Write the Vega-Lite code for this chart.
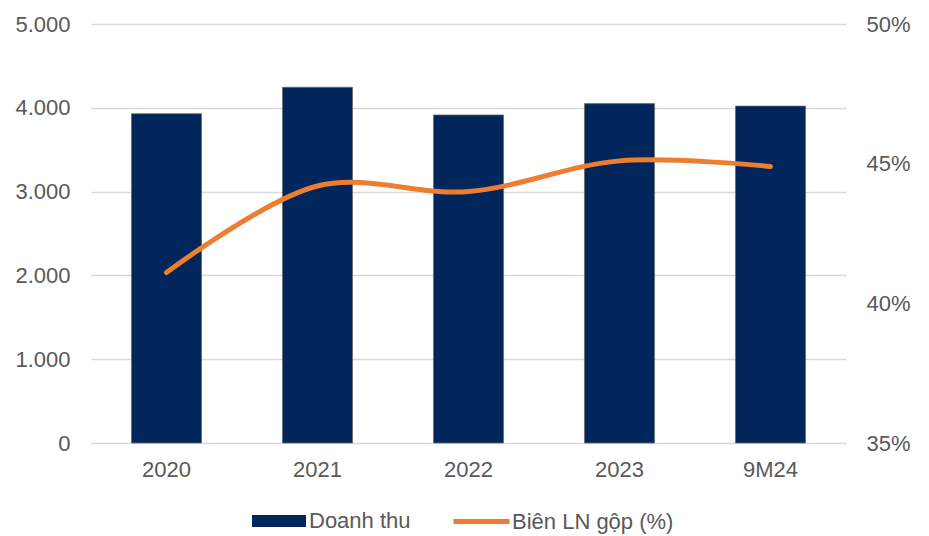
{
  "$schema": "https://vega.github.io/schema/vega-lite/v6.json",
  "width": 755,
  "height": 419,
  "autosize": {"type": "none"},
  "padding": {"left": 91, "top": 24, "right": 83, "bottom": 93},
  "background": "white",
  "config": {"view": {"stroke": null}, "font": "Liberation Sans"},
  "data": {
    "values": [
      {"period": "2020", "revenue": 3930, "margin": 0.411},
      {"period": "2021", "revenue": 4245, "margin": 0.442},
      {"period": "2022", "revenue": 3915, "margin": 0.440},
      {"period": "2023", "revenue": 4050, "margin": 0.451},
      {"period": "9M24", "revenue": 4020, "margin": 0.449}
    ]
  },
  "encoding": {
    "x": {
      "field": "period", "type": "nominal", "sort": null,
      "scale": {"paddingInner": 0.536, "paddingOuter": 0.268},
      "axis": {"title": null, "labelAngle": 0, "labelFontSize": 22, "labelColor": "#595959", "ticks": false, "domain": false, "labelPadding": 16, "labelFont": "Liberation Sans"}
    }
  },
  "layer": [
    {
      "mark": {"type": "bar", "stroke": "#6b6b6b", "strokeWidth": 0.75},
      "encoding": {
        "y": {
          "field": "revenue", "type": "quantitative",
          "scale": {"domain": [0, 5000], "nice": false},
          "axis": {"title": null, "values": [0, 1000, 2000, 3000, 4000, 5000], "labelExpr": "replace(format(datum.value, ','), ',', '.')", "grid": true, "gridColor": "#d9d9d9", "gridWidth": 1.5, "ticks": false, "domain": false, "labelPadding": 21, "labelFontSize": 22, "labelColor": "#595959"}
        },
        "fill": {
          "datum": "Doanh thu", "type": "nominal",
          "scale": {"range": ["#00265C"]},
          "legend": {"orient": "none", "legendX": 161, "legendY": 470, "title": null, "symbolType": "M-1,-0.22H1V0.22H-1Z", "symbolSize": 2916, "symbolStrokeWidth": 0, "labelFontSize": 22, "labelColor": "#595959", "labelOffset": 3, "labelLimit": 400, "padding": 0}
        }
      }
    },
    {
      "mark": {"type": "line", "interpolate": "catmull-rom", "strokeWidth": 5, "strokeCap": "round"},
      "encoding": {
        "y": {
          "field": "margin", "type": "quantitative",
          "scale": {"domain": [0.35, 0.5], "nice": false},
          "axis": {"orient": "right", "title": null, "values": [0.35, 0.4, 0.45, 0.5], "format": ".0%", "grid": false, "ticks": false, "domain": false, "labelPadding": 20, "labelFontSize": 22, "labelColor": "#595959"}
        },
        "stroke": {
          "datum": "Biên LN gộp (%)", "type": "nominal",
          "scale": {"range": ["#ED7D31"]},
          "legend": {"orient": "none", "legendX": 360, "legendY": 467, "title": null, "symbolType": "M-1,0H1", "symbolSize": 3136, "symbolStrokeWidth": 5, "labelFontSize": 22, "labelColor": "#595959", "labelOffset": 0, "labelLimit": 400, "padding": 0}
        }
      }
    }
  ],
  "resolve": {"scale": {"y": "independent"}}
}
